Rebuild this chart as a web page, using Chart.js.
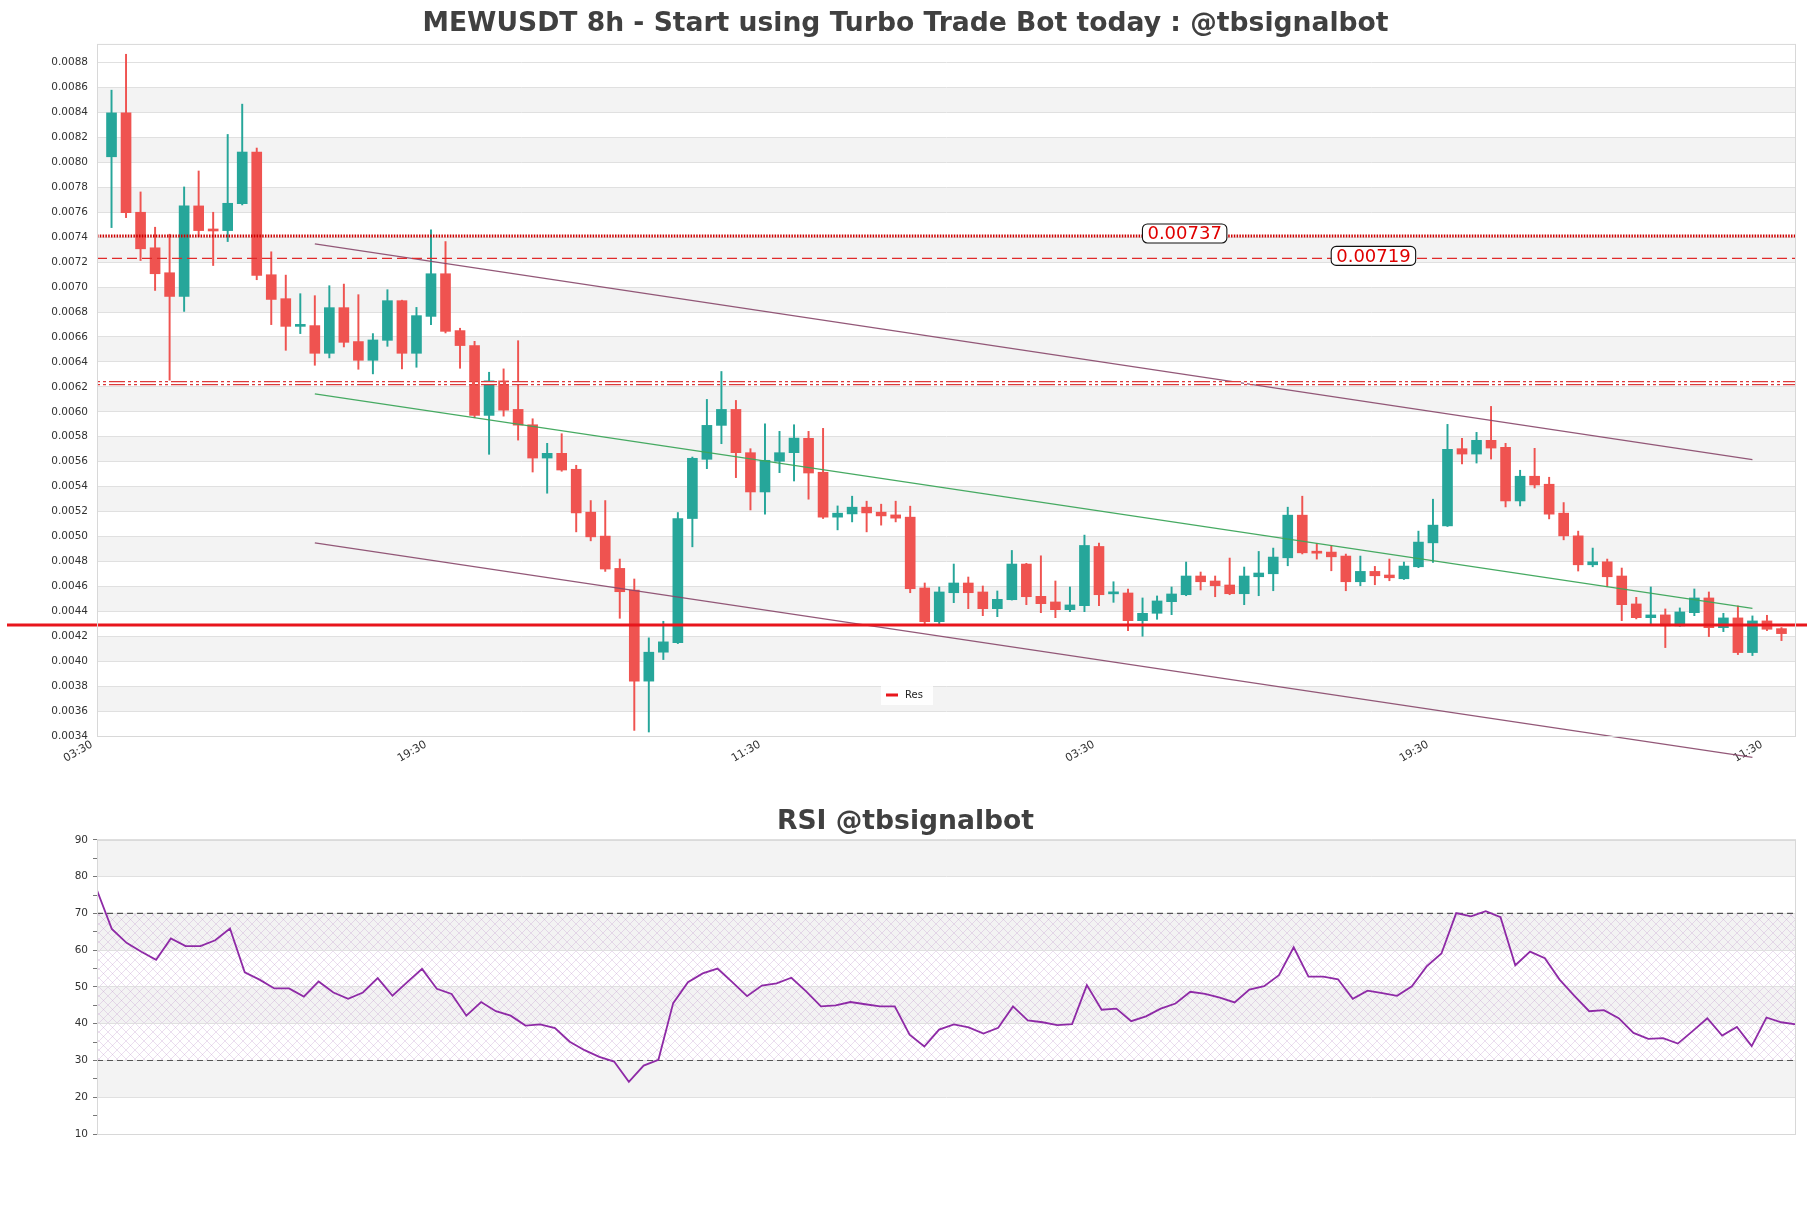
<!DOCTYPE html>
<html>
<head>
<meta charset="utf-8">
<script src="https://cdn.jsdelivr.net/npm/chart.js@4.4.1/dist/chart.umd.min.js"></script>
<style>
  html, body { margin: 0; padding: 0; background: #fff; }
  #wrap { position: relative; width: 1811px; height: 1208px; }
  #main { position: absolute; left: 0; top: 0; }
  #rsi { position: absolute; left: 0; top: 780px; }
</style>
</head>
<body>
<div id="wrap">
  <canvas id="main" width="1811" height="780"></canvas>
  <canvas id="rsi" width="1811" height="428"></canvas>
</div>
<script>
// candle values (price), one per 8h candle
const opens = [
  0.008045, 0.008397, 0.007600, 0.007315, 0.007115, 0.006925, 0.007651, 0.007460, 0.007453, 0.007669,
  0.008083, 0.007099, 0.006907, 0.006685, 0.006691, 0.006469, 0.006835, 0.006563, 0.006413, 0.006573,
  0.006891, 0.006469, 0.006765, 0.007107, 0.006651, 0.006531, 0.005971, 0.006248, 0.006019, 0.005896,
  0.005629, 0.005667, 0.005539, 0.005195, 0.005003, 0.004744, 0.004571, 0.003840, 0.004072, 0.004149,
  0.005144, 0.005619, 0.005891, 0.006019, 0.005672, 0.005357, 0.005603, 0.005672, 0.005787, 0.005515,
  0.005155, 0.005181, 0.005235, 0.005195, 0.005173, 0.005155, 0.004587, 0.004317, 0.004549, 0.004627,
  0.004555, 0.004421, 0.004493, 0.004779, 0.004520, 0.004475, 0.004413, 0.004445, 0.004920, 0.004540,
  0.004547, 0.004325, 0.004384, 0.004477, 0.004533, 0.004683, 0.004643, 0.004611, 0.004541, 0.004677,
  0.004701, 0.004829, 0.005171, 0.004872, 0.004875, 0.004843, 0.004637, 0.004720, 0.004691, 0.004661,
  0.004757, 0.004949, 0.005085, 0.005704, 0.005661, 0.005771, 0.005715, 0.005285, 0.005483, 0.005419,
  0.005187, 0.005005, 0.004773, 0.004797, 0.004683, 0.004459, 0.004349, 0.004371, 0.004283, 0.004389,
  0.004507, 0.004269, 0.004347, 0.004069, 0.004323, 0.004261
];
const highs = [
  0.008579, 0.008867, 0.007763, 0.007480, 0.007424, 0.007803, 0.007931, 0.007600, 0.008224, 0.008467,
  0.008115, 0.007283, 0.007096, 0.006947, 0.006931, 0.007011, 0.007024, 0.006939, 0.006627, 0.006979,
  0.006895, 0.006837, 0.007459, 0.007365, 0.006670, 0.006565, 0.006317, 0.006344, 0.006570, 0.005944,
  0.005747, 0.005824, 0.005571, 0.005288, 0.005288, 0.004819, 0.004659, 0.004187, 0.004320, 0.005192,
  0.005637, 0.006099, 0.006323, 0.006091, 0.005704, 0.005904, 0.005843, 0.005896, 0.005843, 0.005867,
  0.005245, 0.005323, 0.005283, 0.005259, 0.005283, 0.005243, 0.004627, 0.004595, 0.004779, 0.004675,
  0.004603, 0.004563, 0.004888, 0.004785, 0.004845, 0.004643, 0.004595, 0.005011, 0.004947, 0.004637,
  0.004579, 0.004507, 0.004523, 0.004595, 0.004795, 0.004715, 0.004683, 0.004827, 0.004755, 0.004880,
  0.004907, 0.005235, 0.005323, 0.004944, 0.004928, 0.004859, 0.004843, 0.004760, 0.004819, 0.004795,
  0.005043, 0.005299, 0.005899, 0.005787, 0.005835, 0.006043, 0.005747, 0.005531, 0.005707, 0.005475,
  0.005272, 0.005043, 0.004907, 0.004819, 0.004747, 0.004512, 0.004595, 0.004419, 0.004427, 0.004579,
  0.004555, 0.004384, 0.004443, 0.004363, 0.004368, 0.004270
];
const lows = [
  0.007477, 0.007557, 0.007213, 0.006973, 0.006253, 0.006805, 0.007405, 0.007173, 0.007365, 0.007659,
  0.007059, 0.006699, 0.006493, 0.006627, 0.006373, 0.006432, 0.006520, 0.006341, 0.006304, 0.006525,
  0.006344, 0.006357, 0.006699, 0.006632, 0.006349, 0.005952, 0.005659, 0.005965, 0.005773, 0.005517,
  0.005347, 0.005523, 0.005037, 0.004965, 0.004720, 0.004344, 0.003445, 0.003432, 0.004013, 0.004141,
  0.004917, 0.005544, 0.005744, 0.005472, 0.005213, 0.005179, 0.005512, 0.005445, 0.005299, 0.005144,
  0.005053, 0.005117, 0.005037, 0.005091, 0.005117, 0.004549, 0.004291, 0.004291, 0.004469, 0.004421,
  0.004365, 0.004357, 0.004490, 0.004453, 0.004389, 0.004349, 0.004397, 0.004397, 0.004445, 0.004472,
  0.004245, 0.004200, 0.004336, 0.004373, 0.004525, 0.004571, 0.004517, 0.004533, 0.004453, 0.004525,
  0.004565, 0.004765, 0.004860, 0.004819, 0.004725, 0.004565, 0.004605, 0.004613, 0.004645, 0.004655,
  0.004750, 0.004792, 0.005080, 0.005581, 0.005589, 0.005621, 0.005237, 0.005245, 0.005389, 0.005141,
  0.004973, 0.004723, 0.004757, 0.004597, 0.004325, 0.004339, 0.004299, 0.004109, 0.004280, 0.004365,
  0.004197, 0.004237, 0.004053, 0.004045, 0.004245, 0.004165
];
const closes = [
  0.008397, 0.007597, 0.007307, 0.007107, 0.006925, 0.007651, 0.007453, 0.007450, 0.007672, 0.008083,
  0.007093, 0.006901, 0.006685, 0.006690, 0.006469, 0.006835, 0.006557, 0.006413, 0.006576, 0.006891,
  0.006469, 0.006771, 0.007107, 0.006645, 0.006531, 0.005971, 0.006248, 0.006013, 0.005893, 0.005629,
  0.005667, 0.005533, 0.005189, 0.004997, 0.004739, 0.004557, 0.003840, 0.004072, 0.004155, 0.005144,
  0.005627, 0.005891, 0.006019, 0.005672, 0.005357, 0.005611, 0.005672, 0.005789, 0.005509, 0.005155,
  0.005187, 0.005235, 0.005189, 0.005165, 0.005147, 0.004581, 0.004317, 0.004555, 0.004627, 0.004549,
  0.004421, 0.004496, 0.004779, 0.004517, 0.004461, 0.004413, 0.004451, 0.004928, 0.004533, 0.004550,
  0.004325, 0.004384, 0.004483, 0.004539, 0.004683, 0.004637, 0.004605, 0.004541, 0.004683, 0.004707,
  0.004835, 0.005171, 0.004869, 0.004866, 0.004837, 0.004637, 0.004720, 0.004685, 0.004669, 0.004763,
  0.004955, 0.005091, 0.005699, 0.005661, 0.005771, 0.005709, 0.005285, 0.005483, 0.005413, 0.005179,
  0.005005, 0.004773, 0.004797, 0.004677, 0.004453, 0.004349, 0.004371, 0.004283, 0.004395, 0.004507,
  0.004269, 0.004347, 0.004069, 0.004323, 0.004256, 0.004221
];

// RSI, one value per candle
const rsiValues = [
  76.3, 65.8, 62.0, 59.6, 57.4, 63.2, 61.1, 61.1, 62.7, 65.9,
  54.0, 52.0, 49.6, 49.6, 47.4, 51.5, 48.5, 46.8, 48.5, 52.4,
  47.6, 51.3, 54.9, 49.5, 48.1, 42.2, 45.9, 43.4, 42.2, 39.5,
  39.8, 38.8, 35.1, 32.8, 31.0, 29.7, 24.2, 28.6, 30.2, 45.6,
  51.3, 53.7, 55.0, 51.3, 47.5, 50.4, 51.0, 52.5, 48.8, 44.7,
  45.0, 45.9, 45.3, 44.7, 44.7, 37.0, 33.8, 38.4, 39.8, 39.0,
  37.3, 38.9, 44.7, 40.9, 40.4, 39.6, 39.9, 50.5, 43.8, 44.1,
  40.7, 42.0, 44.1, 45.5, 48.7, 48.1, 47.1, 45.8, 49.3, 50.2,
  53.2, 60.8, 52.8, 52.8, 52.1, 46.8, 49.0, 48.3, 47.6, 50.2,
  55.6, 59.1, 70.1, 69.2, 70.6, 69.0, 55.9, 59.6, 57.8, 52.0,
  47.6, 43.4, 43.7, 41.5, 37.5, 35.9, 36.1, 34.6, 38.0, 41.5,
  36.8, 39.1, 33.9, 41.7, 40.4, 39.8
];

// x ticks (candle slot index) and their labels
const xTickPos = [0, 23, 46, 69, 92, 115];
const xTickLabels = ["03:30", "19:30", "11:30", "03:30", "19:30", "11:30"];

// channel lines: start/end slot, then start/end price
const trendX = [15, 114];
const upperLine = [0.007347, 0.005616];
const midLine = [0.006144, 0.004424];
const lowerLine = [0.004949, 0.003228];

// horizontal levels
const dottedLevel = 0.00741;
const dashedLevel = 0.00723;
const patternLevel = 0.00623;
const resLevel = 0.00429;
const levelTexts = ["0.00737", "0.00719"];
const levelTextX = [74.9, 87.9];

// rsi guide levels
const rsiBounds = [30, 70];

const GREEN = "#26a69a";
const RED = "#ef5350";
const FONT = "DejaVu Sans";

Chart.defaults.font.family = FONT;
Chart.defaults.animation = false;

const candleColors = opens.map((o, i) => closes[i] >= o ? GREEN : RED);

function paintBands(chart, scale, step) {
  const { ctx, chartArea } = chart;
  const vals = scale.ticks.map(t => t.value).filter(v => Math.abs(v / step - Math.round(v / step)) < 1e-6);
  ctx.save();
  ctx.fillStyle = "#f3f3f3";
  for (let i = 0; i < vals.length - 1; i++) {
    const k = Math.round((vals[i] - scale.min) / step);
    if (k % 2 === 1) {
      const y1 = scale.getPixelForValue(vals[i]);
      const y2 = scale.getPixelForValue(vals[i + 1]);
      ctx.fillRect(chartArea.left, y2, chartArea.right - chartArea.left, y1 - y2);
    }
  }
  ctx.restore();
}

function drawFrame(chart) {
  const { ctx, chartArea: a } = chart;
  ctx.save();
  ctx.strokeStyle = "#d8d8d8";
  ctx.lineWidth = 1;
  ctx.strokeRect(a.left + 0.5, a.top + 0.5, a.right - a.left - 1, a.bottom - a.top);
  ctx.restore();
}

const mainDecor = {
  id: "mainDecor",
  beforeDraw(chart) {
    paintBands(chart, chart.scales.y, 0.0002);
  },
  afterDatasetsDraw(chart) {
    const { ctx, chartArea: a, scales: { x, y } } = chart;
    ctx.save();
    // dotted level
    let py = y.getPixelForValue(dottedLevel);
    ctx.strokeStyle = "#cc0000";
    ctx.lineWidth = 3;
    ctx.setLineDash([1.5, 1.3]);
    ctx.beginPath(); ctx.moveTo(a.left, py); ctx.lineTo(a.right, py); ctx.stroke();
    // dashed level
    py = y.getPixelForValue(dashedLevel);
    ctx.strokeStyle = "#e02a2a";
    ctx.lineWidth = 1.4;
    ctx.setLineDash([10, 5]);
    ctx.beginPath(); ctx.moveTo(a.left, py); ctx.lineTo(a.right, py); ctx.stroke();
    // patterned level
    py = y.getPixelForValue(patternLevel);
    ctx.setLineDash([3, 3, 3, 3, 16, 3]);
    ctx.strokeStyle = "#dc3a3a";
    ctx.lineWidth = 4.2;
    ctx.beginPath(); ctx.moveTo(a.left, py); ctx.lineTo(a.right, py); ctx.stroke();
    ctx.strokeStyle = "#ffffff";
    ctx.lineWidth = 1.6;
    ctx.beginPath(); ctx.moveTo(a.left, py); ctx.lineTo(a.right, py); ctx.stroke();
    // res line across the figure
    py = y.getPixelForValue(resLevel);
    ctx.setLineDash([]);
    ctx.strokeStyle = "#e8161c";
    ctx.lineWidth = 3.2;
    ctx.beginPath(); ctx.moveTo(7, py); ctx.lineTo(chart.width - 4, py); ctx.stroke();

    // level value boxes
    ctx.font = "18px " + FONT;
    ctx.textAlign = "center";
    ctx.textBaseline = "middle";
    [dottedLevel, dashedLevel].forEach((lv, i) => {
      const cx = x.getPixelForValue(levelTextX[i]);
      const cy = y.getPixelForValue(lv) - 2.5;
      const w = ctx.measureText(levelTexts[i]).width + 10;
      const h = 19;
      ctx.beginPath();
      ctx.roundRect(cx - w / 2, cy - h / 2, w, h, 5);
      ctx.fillStyle = "#ffffff";
      ctx.fill();
      ctx.strokeStyle = "#111";
      ctx.lineWidth = 1.1;
      ctx.stroke();
      ctx.fillStyle = "#e00000";
      ctx.fillText(levelTexts[i], cx, cy + 1);
    });

    // legend
    ctx.fillStyle = "rgba(255,255,255,0.85)";
    ctx.fillRect(881, 684, 52, 21);
    ctx.strokeStyle = "#e8161c";
    ctx.lineWidth = 3;
    ctx.beginPath(); ctx.moveTo(886, 695); ctx.lineTo(898, 695); ctx.stroke();
    ctx.fillStyle = "#222";
    ctx.font = "10px " + FONT;
    ctx.textAlign = "left";
    ctx.fillText("Res", 905, 695);
    ctx.restore();
  },
  afterDraw(chart) {
    drawFrame(chart);
  }
};

const lineSet = (vals, color) => ({
  type: "line",
  data: trendX.map((xv, i) => ({ x: xv, y: vals[i] })),
  borderColor: color,
  borderWidth: 1.2,
  pointRadius: 0,
  clip: false,
  order: 0
});

new Chart(document.getElementById("main"), {
  type: "bar",
  data: {
    datasets: [
      lineSet(upperLine, "rgba(135,70,105,0.9)"),
      lineSet(midLine, "rgba(60,165,90,0.95)"),
      lineSet(lowerLine, "rgba(135,70,105,0.9)"),
      {
        data: opens.map((o, i) => ({ x: i + 1, y: [o, closes[i]] })),
        backgroundColor: candleColors,
        barThickness: 10,
        minBarLength: 2,
        grouped: false,
        order: 1
      },
      {
        data: lows.map((l, i) => ({ x: i + 1, y: [l, highs[i]] })),
        backgroundColor: candleColors,
        barThickness: 1.3,
        grouped: false,
        order: 2
      }
    ]
  },
  options: {
    responsive: false,
    devicePixelRatio: 1,
    events: [],
    layout: { padding: { left: 15, right: 15, top: 0, bottom: 0 } },
    plugins: {
      legend: { display: false },
      tooltip: { enabled: false },
      title: {
        display: true,
        text: "MEWUSDT 8h - Start using Turbo Trade Bot today : @tbsignalbot",
        color: "#404040",
        font: { family: FONT, size: 26.6, weight: "bold" },
        padding: { top: 8, bottom: 4 }
      }
    },
    scales: {
      x: {
        type: "linear",
        min: 0,
        max: 117,
        offset: false,
        afterFit(s) { s.height = 44; },
        afterBuildTicks(s) { s.ticks = xTickPos.map(v => ({ value: v })); },
        ticks: {
          autoSkip: false,
          minRotation: 30,
          maxRotation: 30,
          padding: -6,
          labelOffset: -5,
          color: "#333",
          font: { size: 11 },
          callback: (v, i) => xTickLabels[i]
        },
        grid: { display: false },
        border: { display: false }
      },
      y: {
        min: 0.0034,
        max: 0.00895,
        afterFit(s) { s.width = 82; },
        afterBuildTicks(s) {
          s.ticks = s.ticks.filter(t => t.value <= 0.0088 + 1e-9 && Math.abs(t.value / 0.0002 - Math.round(t.value / 0.0002)) < 1e-6);
        },
        ticks: {
          stepSize: 0.0002,
          padding: 9,
          color: "#333",
          font: { size: 10.5 },
          callback: v => Number(v).toFixed(4)
        },
        grid: { color: "#e0e0e0", drawTicks: false },
        border: { display: false }
      }
    }
  },
  plugins: [mainDecor]
});

// hatch pattern for the 30-70 zone
const hatch = (() => {
  const c = document.createElement("canvas");
  c.width = 9; c.height = 9;
  const p = c.getContext("2d");
  p.strokeStyle = "rgba(190,150,205,0.45)";
  p.lineWidth = 0.7;
  p.beginPath();
  p.moveTo(0, 0); p.lineTo(9, 9);
  p.moveTo(9, 0); p.lineTo(0, 9);
  p.stroke();
  return p.createPattern(c, "repeat");
})();

const rsiDecor = {
  id: "rsiDecor",
  beforeDraw(chart) {
    const { ctx, chartArea: a, scales: { y } } = chart;
    paintBands(chart, y, 10);
    const y1 = y.getPixelForValue(rsiBounds[1]);
    const y2 = y.getPixelForValue(rsiBounds[0]);
    ctx.save();
    ctx.fillStyle = hatch;
    ctx.fillRect(a.left, y1, a.right - a.left, y2 - y1);
    ctx.restore();
  },
  beforeDatasetsDraw(chart) {
    const { ctx, chartArea: a, scales: { y } } = chart;
    ctx.save();
    ctx.strokeStyle = "#555";
    ctx.lineWidth = 1.2;
    ctx.setLineDash([6, 4]);
    rsiBounds.forEach(v => {
      const py = y.getPixelForValue(v);
      ctx.beginPath(); ctx.moveTo(a.left, py); ctx.lineTo(a.right, py); ctx.stroke();
    });
    ctx.restore();
  },
  afterDraw(chart) {
    drawFrame(chart);
  }
};

new Chart(document.getElementById("rsi"), {
  type: "line",
  data: {
    datasets: [{
      data: rsiValues.map((v, i) => ({ x: i, y: v })),
      borderColor: "#8e2aa6",
      borderWidth: 1.8,
      pointRadius: 0,
      tension: 0
    }]
  },
  options: {
    responsive: false,
    devicePixelRatio: 1,
    events: [],
    layout: { padding: { left: 15, right: 15, top: 0, bottom: 74 } },
    plugins: {
      legend: { display: false },
      tooltip: { enabled: false },
      title: {
        display: true,
        text: "RSI @tbsignalbot",
        color: "#404040",
        font: { family: FONT, size: 26.6, weight: "bold" },
        padding: { top: 26, bottom: 2 }
      }
    },
    scales: {
      x: { type: "linear", min: 0, max: rsiValues.length - 1, display: false },
      y: {
        min: 10,
        max: 90,
        afterFit(s) { s.width = 82; },
        ticks: {
          stepSize: 5,
          padding: 5,
          color: "#333",
          font: { size: 10.5 },
          callback: v => (v % 10 === 0 ? v : "")
        },
        grid: {
          color: c => (c.tick && c.tick.value % 10 === 0 ? "#e0e0e0" : "rgba(0,0,0,0)"),
          tickColor: "#777",
          tickLength: 4
        },
        border: { display: false }
      }
    }
  },
  plugins: [rsiDecor]
});
</script>
</body>
</html>
